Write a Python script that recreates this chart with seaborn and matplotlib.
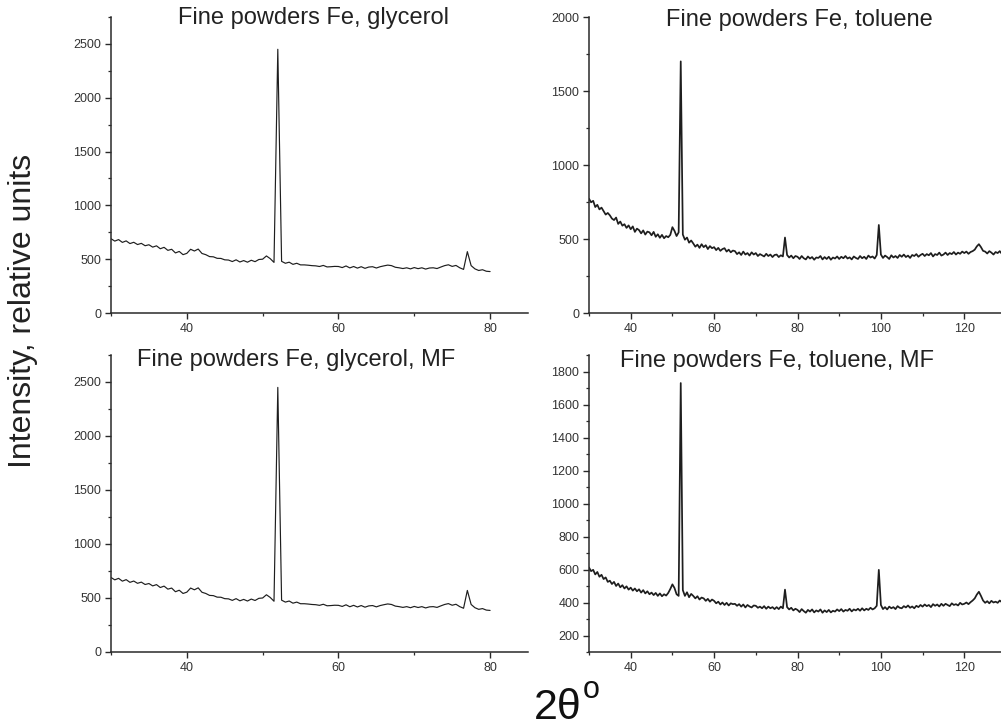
import numpy as np
import pandas as pd
import matplotlib
matplotlib.use("Agg")
import matplotlib.pyplot as plt
from matplotlib.ticker import MultipleLocator
import seaborn as sns

# ---------------- data ----------------
step = 0.5
glycerol_start = 30.0
toluene_start = 30.0

glycerol = [
    690, 668, 682, 656, 670, 645, 657, 636, 647, 625,
    634, 612, 624, 597, 610, 582, 592, 558, 572, 542,
    554, 592, 576, 594, 553, 542, 524, 522, 508, 507,
    494, 492, 478, 494, 474, 487, 472, 490, 477, 497,
    500, 530, 505, 470, 2450, 480, 462, 472, 452, 462,
    447, 447, 444, 440, 438, 432, 442, 428, 430, 433,
    432, 422, 437, 419, 432, 417, 430, 415, 427, 430,
    418, 430, 438, 445, 440, 425, 420, 413, 420, 410,
    422, 412, 420, 408, 418, 420, 413, 427, 440, 448,
    433, 442, 420, 405, 570, 440, 410, 395, 402, 388,
    385,
]
glycerol_mf = list(glycerol)

toluene = [
    772, 748, 758, 716, 731, 700, 712, 688, 665, 676,
    660, 638, 628, 645, 602, 618, 590, 600, 575, 592,
    566, 585, 548, 570, 560, 538, 558, 530, 550, 545,
    525, 548, 515, 532, 508, 528, 505, 520, 512, 528,
    580, 555, 520, 545, 1700, 530, 495, 510, 475, 490,
    470, 448, 462, 440, 465, 445, 458, 432, 452, 438,
    445, 425, 440, 420, 432, 438, 415, 428, 410, 422,
    418, 398, 410, 392, 415, 395, 405, 388, 410, 395,
    405, 385, 398, 390, 382, 400, 385, 395, 378, 392,
    395, 378, 390, 382, 510, 392, 375, 388, 370, 385,
    380, 365, 385, 370, 362, 382, 368, 378, 360, 375,
    372, 385, 362, 378, 365, 380, 360, 375, 368, 382,
    365, 380, 370, 385, 368, 376, 362, 382, 372, 365,
    385, 370, 380, 365, 388, 375, 382, 368, 392, 595,
    395, 372, 388, 378, 365, 390, 375, 385, 372, 392,
    380, 395, 378, 388, 372, 392, 385, 398, 380, 392,
    400, 385, 398, 390, 405, 382, 398, 392, 408, 388,
    395, 408, 392, 405, 398, 412, 395, 408, 400, 415,
    405, 415, 400, 412, 418, 428, 450, 465, 445, 420,
    415, 402, 418, 408, 395, 412, 405, 418, 400, 412,
    408,
]

toluene_mf = [
    612, 590, 598, 570, 585, 556, 568, 542, 552, 525,
    532, 512, 525, 500, 515, 492, 505, 485, 498, 478,
    490, 472, 485, 468, 480, 460, 475, 455, 468, 450,
    460, 445, 458, 440, 455, 438, 450, 442, 458, 482,
    510, 488, 450, 440, 1730, 475, 440, 462, 432, 452,
    440, 425, 438, 418, 430, 425, 410, 422, 405, 418,
    410, 395, 405, 388, 400, 385, 398, 382, 395, 390,
    392, 380, 390, 375, 388, 370, 385, 376, 370, 382,
    380, 368, 375, 365, 378, 362, 375, 365, 372, 360,
    372, 360, 375, 365, 478, 372, 358, 368, 352, 362,
    355, 342, 360, 348, 338, 355, 345, 358, 340, 352,
    345, 358, 338, 352, 342, 355, 340, 350, 345, 358,
    348, 360, 345, 355, 350, 362, 346, 358, 352, 362,
    350, 365, 352, 362, 355, 368, 358, 365, 380, 598,
    385, 360, 372, 358, 375, 365, 372, 360, 378, 368,
    365, 378, 370, 382, 368, 376, 365, 380, 372, 385,
    375, 388, 378, 385, 372, 390, 380, 388, 376, 392,
    380, 392, 385, 378, 395, 385, 390, 382, 398, 388,
    392, 400, 390, 402, 412, 425, 448, 465, 440, 412,
    398, 408, 395, 410, 400, 405, 398, 412, 402, 408,
    405,
]

titles = [
    "Fine powders Fe, glycerol",
    "Fine powders Fe, toluene",
    "Fine powders Fe, glycerol, MF",
    "Fine powders Fe, toluene, MF",
]
ylabel = "Intensity, relative units"


def frame(values, start):
    v = np.asarray(values, dtype=float)
    return pd.DataFrame({"two_theta": start + step * np.arange(len(v)),
                         "intensity": v})


# ---------------- figure ----------------
sns.set_theme(style="ticks")
plt.rcParams["font.family"] = ["Liberation Sans", "DejaVu Sans"]

W, H = 1001, 728
fig = plt.figure(figsize=(W / 100, H / 100), dpi=100)


def px_axes(left, top, right, bottom):
    return fig.add_axes([left / W, 1 - bottom / H, (right - left) / W, (bottom - top) / H])


specs = [
    # data, start, axes px box, xlim, ylim, ymaj, ymin, title centre px, lw
    (glycerol, glycerol_start, (111, 17, 528, 313), (30, 85), (0, 2750), 500, 250, (314, 18), 0.85),
    (toluene, toluene_start, (589, 17, 1006, 313), (30, 130), (0, 2000), 500, 250, (799, 20), 1.25),
    (glycerol_mf, glycerol_start, (111, 355, 528, 652), (30, 85), (0, 2750), 500, 250, (296, 360), 0.85),
    (toluene_mf, toluene_start, (589, 355, 1006, 652), (30, 130), (100, 1900), 200, 100, (777, 361), 1.25),
]

ink = "#2a2a2a"
for (vals, start, box, xl, yl, ymaj, ymin, tpos, lw), title in zip(specs, titles):
    ax = px_axes(*box)
    df = frame(vals, start)
    sns.lineplot(data=df, x="two_theta", y="intensity", ax=ax, color="#1e1e1e",
                 linewidth=lw, estimator=None, sort=False)
    ax.set_xlim(*xl)
    ax.set_ylim(*yl)
    ax.set_xlabel("")
    ax.set_ylabel("")
    ax.xaxis.set_major_locator(MultipleLocator(20))
    ax.xaxis.set_minor_locator(MultipleLocator(10))
    ax.yaxis.set_major_locator(MultipleLocator(ymaj))
    ax.yaxis.set_minor_locator(MultipleLocator(ymin))
    for s in ("top", "right"):
        ax.spines[s].set_visible(False)
    for s in ("left", "bottom"):
        ax.spines[s].set_color(ink)
        ax.spines[s].set_linewidth(1.1)
    ax.tick_params(which="major", direction="out", length=4, width=1.0,
                   color=ink, labelsize=9, labelcolor="#333333", pad=3)
    ax.tick_params(which="minor", direction="out", length=2.5, width=0.9, color=ink)
    ax.patch.set_alpha(0)
    fig.text(tpos[0] / W, 1 - tpos[1] / H, title, ha="center", va="center",
             fontsize=17, color="#222222")

fig.text(23 / W, 1 - 311 / H, ylabel, rotation=90, ha="center", va="center",
         fontsize=23, color="#222222")
fig.text(534 / W, 1 - 708 / H, "2\u03b8", ha="left", va="center", fontsize=31, color="#111111")
fig.text(583 / W, 1 - 690 / H, "o", ha="left", va="center", fontsize=22, color="#111111")

fig.savefig("out.png", dpi=100)
